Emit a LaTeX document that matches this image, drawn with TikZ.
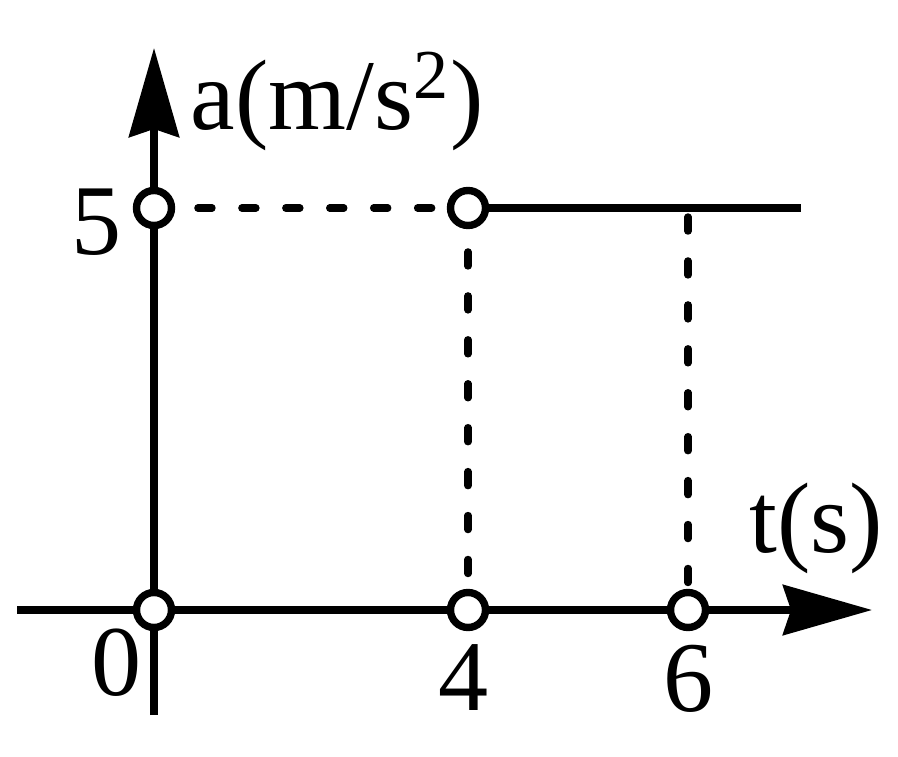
\documentclass[tikz,border=0pt]{standalone}
\usepackage{fontspec}
\setmainfont{Liberation Serif}
\usetikzlibrary{arrows.meta}
\tikzset{
  axis/.style={line width=2.1pt, -{Stealth[length=8.9mm, width=5mm, inset=0.8mm]}},
  hollow/.style={circle, draw, fill=white, line width=2.1pt, inner sep=0pt, minimum size=3.5mm},
  guide/.style={line width=2.1pt, line cap=round, dash pattern=on 4pt off 8.5pt},
  lbl/.style={inner sep=0pt, font=\fontsize{28.5}{34}\selectfont}
}
\begin{document}
\begin{tikzpicture}[x=0.1mm, y=0.1mm]
      \useasboundingbox (0,0) rectangle (898,756);
      \coordinate (o) at (154,146);
      \coordinate (a5) at (154,548);
      \coordinate (p4) at (468,548);
      \coordinate (t4) at (468,146);
      \coordinate (t6) at (688,146);
      \coordinate (p6) at (688,539);
      \coordinate (pend) at (801,548);
      \coordinate (xl) at (17,146);
      \coordinate (xr) at (872,146);
      \coordinate (yb) at (154,41);
      \coordinate (yt) at (154,708);
      \draw[axis] (xl) to (xr);
      \draw[axis] (yb) to (yt);
      \draw[line width=2.1pt] (p4) to (pend);
      \begin{scope}[guide]
        \draw (a5) to (p4);
        \draw (p4) to (t4);
        \draw (p6) to (t6);
      \end{scope}
      \foreach \p in {o,a5,p4,t4,t6}
        \node[hollow] at (\p) {};
      \node[lbl, anchor=base west] (alab) at (190,626) {a(m/s\textsuperscript{2})};
      \node[lbl, anchor=base west] (tlab) at (749,204) {t(s)};
      \node[lbl, anchor=base east] (l5) at (122,501) {5};
      \node[lbl, anchor=base] (l0) at (117,61) {0};
      \node[lbl, anchor=base] (l4) at (464,46) {4};
      \node[lbl, anchor=base] (l6) at (689,45) {6};
\end{tikzpicture}
\end{document}
